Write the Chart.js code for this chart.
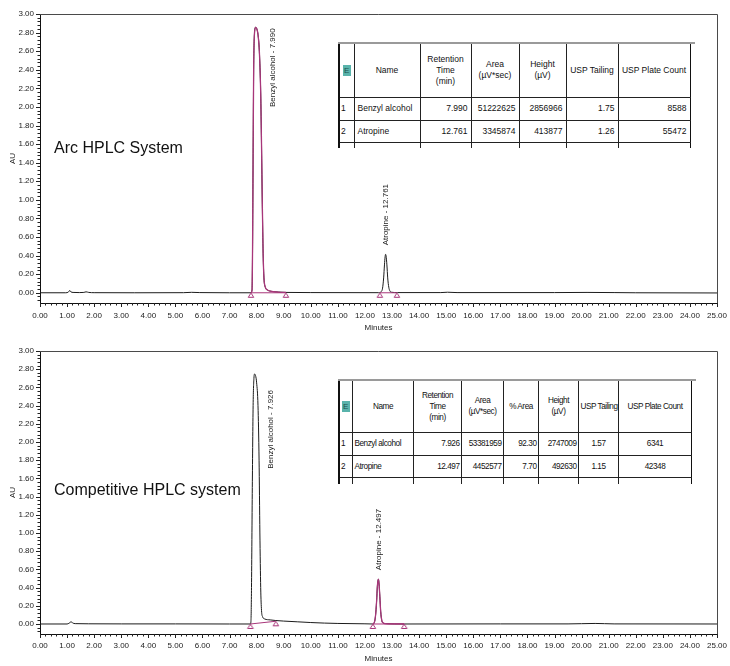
<!DOCTYPE html>
<html><head><meta charset="utf-8">
<script src="https://cdn.jsdelivr.net/npm/chart.js@4.4.0/dist/chart.umd.min.js"></script>
<style>
html,body{margin:0;padding:0;background:#fff;width:730px;height:666px;overflow:hidden;font-family:"Liberation Sans",Arial,Helvetica,sans-serif;}
.panel{position:absolute;left:0;width:730px;height:333px;}
.panel canvas{position:absolute;left:0;top:0;width:730px;height:333px;}
.sys{position:absolute;left:54px;font-size:16px;line-height:19px;color:#111;white-space:nowrap;}
.tline{position:absolute;height:2px;background:#9a9a9a;}
table.res{position:absolute;border-collapse:collapse;table-layout:fixed;font-size:8.5px;color:#111;background:#fff;}
table.res td{border-left:1px solid #222;border-right:1px solid #222;border-bottom:1.5px solid #222;padding:0 3px;white-space:nowrap;overflow:hidden;line-height:11px;vertical-align:middle;}
table.res.narrow{font-size:8.2px;letter-spacing:-0.45px;}
table.res.narrow td{padding:0 1px 0 2px;}
table.res tr.head td{text-align:center;}
table.res td.first{border-left:2px solid #111;padding:0 1px;}
table.res td.last{border-right:1.5px solid #111;}
table.res tr.part td{border-bottom:none;}
.eic{display:inline-block;width:8px;height:11px;line-height:11px;background:#59b3ab;color:#1d4f4a;font-size:8px;text-align:center;letter-spacing:0;}
</style></head>
<body>
<div class="panel" id="p1" style="top:0px">
  <canvas id="c1" width="730" height="333"></canvas>
  <div class="sys" style="top:138px">Arc HPLC System</div>
</div>
<div class="panel" id="p2" style="top:333px">
  <canvas id="c2" width="730" height="333"></canvas>
  <div class="sys" style="top:147px">Competitive HPLC system</div>
</div>
<script>
// ---------- axis ticks ----------
const xTickValues = [0,1,2,3,4,5,6,7,8,9,10,11,12,13,14,15,16,17,18,19,20,21,22,23,24,25];
const yTickValues = [0.00,0.20,0.40,0.60,0.80,1.00,1.20,1.40,1.60,1.80,2.00,2.20,2.40,2.60,2.80,3.00];

// ---------- Arc HPLC System (top) ----------
const arcTime = [0.00,0.95,1.05,1.10,1.14,1.22,1.45,1.62,1.70,1.80,2.00,3.50,5.30,5.60,5.90,7.00,7.79,
  7.83,7.85,7.87,7.89,7.92,7.96,8.00,8.05,8.10,8.15,8.18,8.21,8.24,8.27,8.32,8.40,8.55,8.80,9.08,10.00,
  12.50,12.60,12.65,12.69,12.72,12.745,12.761,12.78,12.81,12.84,12.88,12.92,12.98,13.20,14.80,15.05,15.40,
  19.00,20.20,21.20,22.00,25.00];
const arcAU = [0.000,0.000,0.008,0.025,0.010,0.004,0.002,0.004,0.010,0.004,0.001,0.000,0.001,0.005,0.002,0.000,0.000,
  0.030,0.500,1.500,2.400,2.790,2.857,2.845,2.780,2.600,2.150,1.600,0.950,0.420,0.160,0.060,0.030,0.015,0.008,0.004,0.002,
  0.001,0.012,0.050,0.160,0.300,0.390,0.414,0.395,0.300,0.160,0.060,0.020,0.006,0.002,0.002,0.006,0.002,
  0.002,0.004,0.002,0.000,-0.002];
const arcPeakNames = ['Benzyl alcohol','Atropine'];
const arcRetention = [7.990,12.761];
const arcArea = [51222625,3345874];
const arcHeight = [2856966,413877];
const arcTailing = [1.75,1.26];
const arcPlates = [8588,55472];
const arcIntStart = [7.79,12.55];
const arcIntEnd = [9.08,13.18];
const arcBaseStart = [0.000,0.000];
const arcBaseEnd = [0.000,0.000];

// ---------- Competitive HPLC system (bottom) ----------
const compTime = [0.00,1.00,1.08,1.15,1.20,1.30,1.80,3.00,5.00,7.00,7.77,
  7.79,7.81,7.84,7.87,7.90,7.926,7.96,8.00,8.05,8.09,8.12,8.15,8.18,8.22,8.30,8.50,8.71,9.00,9.50,10.00,10.50,11.00,12.00,
  12.29,12.35,12.39,12.43,12.46,12.497,12.52,12.55,12.58,12.62,12.67,12.75,13.45,17.00,19.50,20.50,21.20,25.00];
const compAU = [0.000,0.000,0.010,0.025,0.012,0.004,0.002,0.001,0.001,0.000,0.000,
  0.030,0.400,1.500,2.400,2.700,2.747,2.730,2.650,2.400,1.800,1.000,0.400,0.150,0.080,0.055,0.045,0.038,0.032,0.024,0.016,0.010,0.006,0.002,
  0.000,0.020,0.090,0.250,0.420,0.493,0.440,0.300,0.140,0.040,0.012,0.004,0.000,0.001,0.001,0.006,0.001,0.000];
const compPeakNames = ['Benzyl alcohol','Atropine'];
const compRetention = [7.926,12.497];
const compArea = [53381959,4452577];
const compPctArea = [92.30,7.70];
const compHeight = [2747009,492630];
const compTailing = [1.57,1.15];
const compPlates = [6341,42348];
const compIntStart = [7.77,12.29];
const compIntEnd = [8.71,13.45];
const compBaseStart = [0.000,0.000];
const compBaseEnd = [0.030,0.000];

// ---------- styles ----------
const FONT = '"Liberation Sans", Arial, Helvetica, sans-serif';
const TRACE = '#1b1b1b';
const MAG = '#a8367a';
const X_MINOR = 0.2, Y_MINOR = 0.04;

// triangle marker image (tip sits on the point)
function triImage(){
  const c = document.createElement('canvas'); c.width = 10; c.height = 14;
  const g = c.getContext('2d');
  g.strokeStyle = MAG; g.lineWidth = 1;
  g.beginPath(); g.moveTo(5,7.2); g.lineTo(7.8,11.5); g.lineTo(2.2,11.5); g.closePath(); g.stroke();
  return c;
}
const TRI = triImage();

const axisDeco = {
  id:'axisDeco',
  afterDraw(chart){
    const {ctx, chartArea:a, scales:{x,y}} = chart;
    ctx.save();
    ctx.strokeStyle = '#4a4a4a'; ctx.lineWidth = 1;
    ctx.beginPath();
    ctx.moveTo(a.left, a.top+0.5); ctx.lineTo(a.right+0.5, a.top+0.5); ctx.lineTo(a.right+0.5, a.bottom);
    ctx.stroke();
    ctx.strokeStyle = '#222';
    ctx.beginPath();
    const nx = Math.round((x.max - x.min)/X_MINOR);
    for (let k=0;k<=nx;k++){
      const px = Math.round(x.getPixelForValue(x.min + k*X_MINOR)) + 0.5;
      const len = (k % 5 === 0) ? 4 : 2.5;
      ctx.moveTo(px, a.bottom); ctx.lineTo(px, a.bottom + len);
    }
    const k0 = Math.ceil(y.min/Y_MINOR - 1e-9), k1 = Math.floor(y.max/Y_MINOR + 1e-9);
    for (let k=k0;k<=k1;k++){
      const py = Math.round(y.getPixelForValue(k*Y_MINOR)) + 0.5;
      const len = (((k % 5) + 5) % 5 === 0) ? 4 : 2.5;
      ctx.moveTo(a.left, py); ctx.lineTo(a.left - len, py);
    }
    ctx.stroke();
    ctx.restore();
  }
};

const peakLabels = {
  id:'peakLabels',
  afterDatasetsDraw(chart, args, opts){
    const {ctx, scales:{x,y}} = chart;
    ctx.save();
    ctx.font = '8px ' + FONT; ctx.fillStyle = '#1a1a1a';
    (opts.items || []).forEach(it => {
      const px = x.getPixelForValue(it.time) + it.dx;
      const py = y.getPixelForValue(it.height) + it.dy;
      ctx.save(); ctx.translate(px, py); ctx.rotate(-Math.PI/2);
      ctx.textAlign = it.align; ctx.textBaseline = 'middle';
      ctx.fillText(it.text, 0, 0);
      ctx.restore();
    });
    ctx.restore();
  }
};

function makeChart(canvasId, p){
  const trace = p.time.map((t,i)=>({x:t, y:p.au[i]}));
  const hi = p.highlight;
  const hiData = trace.filter(pt => pt.x >= p.intStart[hi] && pt.x <= p.intEnd[hi]);
  const base = [];
  p.intStart.forEach((s,i)=>{ base.push({x:s,y:p.baseStart[i]},{x:p.intEnd[i],y:p.baseEnd[i]},{x:p.intEnd[i]+0.001,y:null}); });
  const marks = [];
  p.intStart.forEach((s,i)=>{ marks.push({x:s,y:p.baseStart[i]},{x:p.intEnd[i],y:p.baseEnd[i]}); });
  const items = p.names.map((n,i)=>({
    text: n + ' - ' + p.rt[i].toFixed(3), time: p.rt[i], height: p.heightUV[i]/1e6,
    dx: p.labelPos[i].dx, dy: p.labelPos[i].dy, align: p.labelPos[i].align
  }));
  return new Chart(document.getElementById(canvasId), {
    type:'line',
    data:{datasets:[
      {data:marks, showLine:false, pointStyle:TRI, pointRadius:4, order:0},
      {data:hiData, borderColor:MAG, borderWidth:1.3, pointRadius:0, cubicInterpolationMode:'monotone', order:1},
      {data:base, borderColor:MAG, borderWidth:1, pointRadius:0, spanGaps:false, order:2},
      {data:trace, borderColor:TRACE, borderWidth:1, pointRadius:0, cubicInterpolationMode:'monotone', order:3}
    ]},
    options:{
      responsive:false, animation:false, events:[],
      layout:{padding:{top:p.padTop, right:13, left:0, bottom:0}},
      plugins:{legend:{display:false}, tooltip:{enabled:false}, peakLabels:{items}},
      scales:{
        x:{type:'linear', min:0, max:25,
          afterBuildTicks:s=>{ s.ticks = xTickValues.map(v=>({value:v})); },
          afterFit:s=>{ s.height = p.xH; s.paddingLeft = 0; s.paddingRight = 0; },
          grid:{display:false, drawTicks:false},
          border:{display:true, color:'#111', width:1},
          ticks:{autoSkip:false, maxRotation:0, padding:p.xPad, color:'#222', font:{size:8, family:FONT}, callback:v=>Number(v).toFixed(2)},
          title:{display:true, text:'Minutes', color:'#222', font:{size:8, family:FONT}, padding:{top:0, bottom:p.titlePad}}
        },
        y:{type:'linear', min:-0.11, max:3.0,
          afterBuildTicks:s=>{ s.ticks = yTickValues.map(v=>({value:v})); },
          afterFit:s=>{ s.width = 40; s.paddingTop = 0; s.paddingBottom = 0; },
          grid:{display:false, drawTicks:false},
          border:{display:true, color:'#111', width:1},
          ticks:{autoSkip:false, padding:6, color:'#222', font:{size:8, family:FONT}, callback:v=>Number(v).toFixed(2)},
          title:{display:true, text:'AU', color:'#222', font:{size:8, family:FONT}, padding:{top:8, bottom:0}}
        }
      }
    },
    plugins:[axisDeco, peakLabels]
  });
}

makeChart('c1', {time:arcTime, au:arcAU, names:arcPeakNames, rt:arcRetention, heightUV:arcHeight,
  intStart:arcIntStart, intEnd:arcIntEnd, baseStart:arcBaseStart, baseEnd:arcBaseEnd, highlight:0,
  padTop:14, xH:30, xPad:8, titlePad:0,
  labelPos:[{dx:16, dy:1, align:'right'},{dx:0, dy:-9, align:'left'}]});
makeChart('c2', {time:compTime, au:compAU, names:compPeakNames, rt:compRetention, heightUV:compHeight,
  intStart:compIntStart, intEnd:compIntEnd, baseStart:compBaseStart, baseEnd:compBaseEnd, highlight:1,
  padTop:18, xH:32, xPad:7, titlePad:2,
  labelPos:[{dx:16, dy:16, align:'right'},{dx:0, dy:-9, align:'left'}]});

// ---------- result tables ----------
function buildTable(panelId, left, top, widths, heads, rows, aligns, rowH, partH, extraClass){
  const panel = document.getElementById(panelId);
  const total = widths.reduce((a,b)=>a+b,0);
  const line = document.createElement('div');
  line.className = 'tline';
  line.style.left = left + 'px'; line.style.top = (top-1) + 'px'; line.style.width = (total + 6) + 'px';
  panel.appendChild(line);
  const t = document.createElement('table');
  t.className = 'res' + (extraClass ? ' ' + extraClass : '');
  t.style.left = left + 'px'; t.style.top = (top+1) + 'px'; t.style.width = total + 'px';
  let html = '<colgroup>' + widths.map(w=>'<col style="width:'+w+'px">').join('') + '</colgroup>';
  const cls = i => (i===0 ? 'first' : (i===widths.length-1 ? 'last' : ''));
  html += '<tr class="head" style="height:'+rowH[0]+'px">' + heads.map((h,i)=>'<td class="'+cls(i)+'">'+h+'</td>').join('') + '</tr>';
  rows.forEach((r,ri)=>{
    html += '<tr style="height:'+rowH[ri+1]+'px">' + r.map((c,i)=>'<td class="'+cls(i)+'" style="text-align:'+aligns[i]+'">'+c+'</td>').join('') + '</tr>';
  });
  html += '<tr class="part" style="height:'+partH+'px">' + widths.map((w,i)=>'<td class="'+cls(i)+'"></td>').join('') + '</tr>';
  t.innerHTML = html;
  panel.appendChild(t);
}
const EIC = '<span class="eic">E</span>';
buildTable('p1', 338, 43, [15,66,51,48,47,52,72],
  [EIC,'Name','Retention<br>Time<br>(min)','Area<br>(µV*sec)','Height<br>(µV)','USP Tailing','USP Plate Count'],
  arcPeakNames.map((n,i)=>[String(i+1), n, arcRetention[i].toFixed(3), String(arcArea[i]), String(arcHeight[i]), arcTailing[i].toFixed(2), String(arcPlates[i])]),
  ['left','left','right','right','right','right','right'], [53,23,22], 6, '');
buildTable('p2', 338, 47, [13,61,48,42,35,40,40,73],
  [EIC,'Name','Retention<br>Time<br>(min)','Area<br>(µV*sec)','% Area','Height<br>(µV)','USP Tailing','USP Plate Count'],
  compPeakNames.map((n,i)=>[String(i+1), n, compRetention[i].toFixed(3), String(compArea[i]), compPctArea[i].toFixed(2), String(compHeight[i]), compTailing[i].toFixed(2), String(compPlates[i])]),
  ['left','left','right','right','right','right','center','center'], [51,23,22], 7, 'narrow');
</script>
</body></html>
